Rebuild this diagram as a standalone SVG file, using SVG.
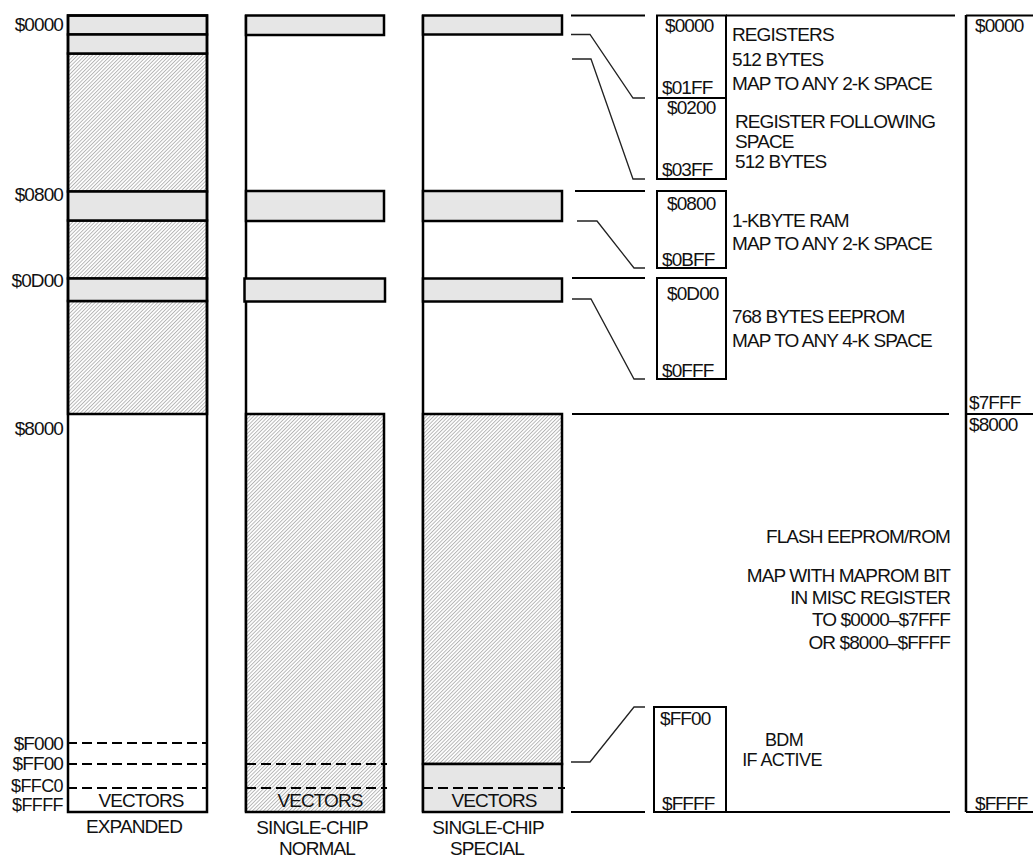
<svg xmlns="http://www.w3.org/2000/svg" width="1033" height="857" viewBox="0 0 1033 857">
<defs>
<pattern id="hatch" width="2.6" height="2.6" patternUnits="userSpaceOnUse" patternTransform="rotate(45)">
<rect width="2.6" height="2.6" fill="#ffffff"/>
<line x1="0.5" y1="0" x2="0.5" y2="2.6" stroke="#9a9a9a" stroke-width="0.7"/>
</pattern>
<style>
text{font-family:"Liberation Sans",Arial,Helvetica,sans-serif;font-size:19px;letter-spacing:-0.9px;fill:#111}
.e{text-anchor:end}
.m{text-anchor:middle}
.s{font-size:18px;letter-spacing:-0.6px}
.box{stroke:#000;stroke-width:2.5;fill:none}
.gray{fill:#e6e6e6;stroke:#000;stroke-width:2.5}
.hat{fill:url(#hatch);stroke:#000;stroke-width:2.5}
.ln{stroke:#000;stroke-width:2.5;fill:none}
.dash{stroke:#000;stroke-width:2;stroke-dasharray:10 5;fill:none}
.thin{stroke:#000;stroke-width:2;fill:none}
.con{stroke:#222;stroke-width:1.3;fill:none}
</style>
</defs>
<rect width="1033" height="857" fill="#ffffff"/>

<g id="col-expanded">
<rect class="hat" x="68" y="53.5" width="139" height="138"/>
<rect class="hat" x="68" y="220.5" width="139" height="58"/>
<rect class="hat" x="68" y="301" width="139" height="113"/>
<rect class="gray" x="68" y="15.5" width="139" height="19"/>
<rect class="gray" x="68" y="34.5" width="139" height="19"/>
<rect class="gray" x="68" y="191.5" width="139" height="29"/>
<rect class="gray" x="68" y="278.5" width="139" height="22.5"/>
<rect class="box" x="68" y="15.5" width="139" height="796.5"/>
<line class="dash" x1="67" y1="743" x2="207" y2="743"/>
<line class="dash" x1="67" y1="764" x2="207" y2="764"/>
<line class="dash" x1="67" y1="788" x2="207" y2="788"/>
<text class="e" x="63" y="31">$0000</text>
<text class="e" x="63" y="201">$0800</text>
<text class="e" x="63" y="287">$0D00</text>
<text class="e" x="63" y="435">$8000</text>
<text class="e" x="63" y="750">$F000</text>
<text class="e" x="63" y="770">$FF00</text>
<text class="e s" x="63" y="792">$FFC0</text>
<text class="e s" x="63" y="811">$FFFF</text>
<text class="m" x="141" y="807">VECTORS</text>
<text class="m" x="134" y="833">EXPANDED</text>
</g>

<g id="col-normal">
<line class="ln" x1="246" y1="15" x2="246" y2="812"/>
<rect class="gray" x="246" y="15.5" width="138" height="19.5"/>
<rect class="gray" x="246" y="191" width="138" height="30"/>
<rect class="gray" x="244.5" y="278.5" width="140.5" height="23"/>
<rect class="hat" x="246" y="414" width="138" height="398"/>
<line class="dash" x1="246" y1="764" x2="387" y2="764"/>
<line class="dash" x1="246" y1="788" x2="387" y2="788"/>
<text class="m" x="320" y="807">VECTORS</text>
<text class="m" x="312" y="834">SINGLE-CHIP</text>
<text class="m" x="317" y="855">NORMAL</text>
</g>

<g id="col-special">
<line class="ln" x1="423" y1="15" x2="423" y2="812"/>
<rect class="gray" x="423" y="15.5" width="139" height="19"/>
<rect class="gray" x="423" y="191" width="139" height="30"/>
<rect class="gray" x="423" y="278.5" width="139" height="23"/>
<rect class="hat" x="423" y="414" width="139" height="350"/>
<rect class="gray" x="423" y="764" width="139" height="48"/>
<line class="dash" x1="423" y1="788" x2="565" y2="788"/>
<text class="m" x="494" y="807">VECTORS</text>
<text class="m" x="488" y="834">SINGLE-CHIP</text>
<text class="m" x="487" y="855">SPECIAL</text>
</g>

<g id="connectors">
<line class="thin" x1="571" y1="15.5" x2="645" y2="15.5"/>
<polyline class="con" points="571,34.5 590,34.5 633,98 645,98"/>
<polyline class="con" points="572,59 591,59 633,179 645,179"/>
<line class="thin" x1="575" y1="191" x2="645" y2="191"/>
<polyline class="con" points="577,221 597,221 634,268 645,268"/>
<line class="thin" x1="572" y1="278" x2="645" y2="278"/>
<polyline class="con" points="572,299 591,299 634,379 645,379"/>
<line class="thin" x1="572" y1="414" x2="949" y2="414"/>
<polyline class="con" points="571,762 590,762 634,707 645,707"/>
<line class="thin" x1="571" y1="812" x2="645" y2="812"/>
<line class="thin" x1="726" y1="812" x2="950" y2="812"/>
<line class="thin" x1="726" y1="15.5" x2="955" y2="15.5"/>
</g>

<g id="registers">
<rect class="thin" x="657" y="15.5" width="69" height="82.5"/>
<text x="665" y="32">$0000</text>
<text x="662" y="94">$01FF</text>
<text x="732" y="41">REGISTERS</text>
<text x="732" y="66">512 BYTES</text>
<text x="732" y="90">MAP TO ANY 2-K SPACE</text>
</g>

<g id="register-following">
<rect class="thin" x="657" y="98" width="69" height="81"/>
<text x="667" y="114">$0200</text>
<text x="662" y="176">$03FF</text>
<text x="735" y="128">REGISTER FOLLOWING</text>
<text x="735" y="148">SPACE</text>
<text x="735" y="168">512 BYTES</text>
</g>

<g id="ram">
<rect class="thin" x="657" y="191" width="69" height="77"/>
<text x="667" y="210">$0800</text>
<text x="662" y="266">$0BFF</text>
<text x="732" y="227">1-KBYTE RAM</text>
<text x="732" y="250">MAP TO ANY 2-K SPACE</text>
</g>

<g id="eeprom">
<rect class="thin" x="657" y="278" width="69" height="101"/>
<text x="667" y="300">$0D00</text>
<text x="662" y="377">$0FFF</text>
<text x="732" y="323">768 BYTES EEPROM</text>
<text x="732" y="347">MAP TO ANY 4-K SPACE</text>
</g>

<g id="flash">
<text class="e" x="950" y="543">FLASH EEPROM/ROM</text>
<text class="e" x="950" y="582">MAP WITH MAPROM BIT</text>
<text class="e" x="950" y="604">IN MISC REGISTER</text>
<text class="e" x="950" y="626">TO $0000–$7FFF</text>
<text class="e" x="950" y="649">OR $8000–$FFFF</text>
</g>

<g id="bdm">
<rect class="thin" x="654" y="707" width="72" height="105"/>
<text x="660" y="725">$FF00</text>
<text x="662" y="810">$FFFF</text>
<text class="m s" x="784" y="746">BDM</text>
<text class="m s" x="782" y="766">IF ACTIVE</text>
</g>

<g id="full-map">
<line class="ln" x1="966" y1="15" x2="966" y2="812"/>
<line class="thin" x1="966" y1="15.5" x2="1033" y2="15.5"/>
<line class="thin" x1="966" y1="414" x2="1033" y2="414"/>
<line class="thin" x1="966" y1="812" x2="1033" y2="812"/>
<text x="975" y="32">$0000</text>
<text x="969" y="409">$7FFF</text>
<text x="969" y="431">$8000</text>
<text x="975" y="810">$FFFF</text>
</g>
</svg>
